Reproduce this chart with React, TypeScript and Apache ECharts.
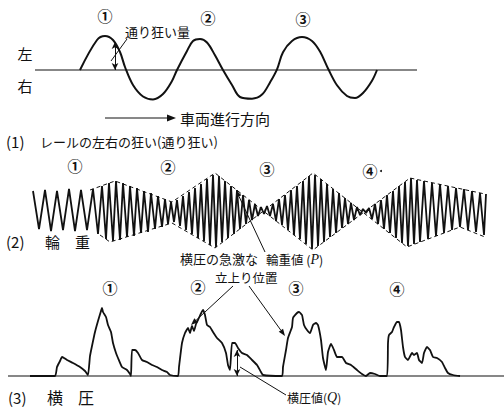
import { useEffect, useRef } from "react";
import * as echarts from "echarts";

const FONT = '"Noto Sans CJK JP", "Noto Sans", sans-serif';

// (1) rail alignment: [distance, offset]  (+ = left, − = right)
const alignmentTrace: [number, number][] = [
  [80, 0], [97, 30], [105, 34], [113, 30], [120, 18], [125, 3], [133, -15], [143, -26.5],
  [153, -29.4], [163, -24], [172, -11], [177, 0], [187, 19], [193, 29], [200, 31], [207, 27.5],
  [215, 14.7], [223, 0], [232, -15], [240, -27], [252, -28.7], [262, -24.6], [270, -12.4],
  [277, 0.7], [283, 17.8], [292, 29], [302, 33], [312, 29], [320, 18.4], [328, 1.5],
  [337, -15.3], [347, -26], [355, -28], [363, -23], [372, -10.7], [377, 0],
];
const alignmentBaseline: [number, number][] = [[35, 0], [417, 0]];
const alignmentAmount = { at: 115, value: 28 };

// (2) wheel load: turning points of the recorded oscillation [distance, load deviation]
const wheelLoadTrace: [number, number][] = [
  [33, 20], [39, -18], [45, 21], [51, -20], [57, 20], [63, -19], [69, 22], [75, -20], [81, 21], [87, -19], [93, 22], [98, -23],
  [102, 25], [106, -28], [109, 28], [113, -30], [116, 30], [120, -29], [123, 28], [127, -26], [130, 25], [134, -25],
  [137, 23], [141, -22], [144, 20], [148, -21], [151, 18], [155, -18], [158, 15], [162, -16], [165, 12], [168, -13],
  [171, 9], [174, -11], [177, 11], [180, -15],
  [183, 15], [186, -19], [189, 19], [192, -23], [195, 23], [198, -27], [201, 27], [204, -30], [207, 32], [210, -34],
  [213, 36], [216, -36], [219, 35], [222, -31], [225, 30], [228, -27], [231, 25], [234, -23], [237, 21], [240, -18],
  [243, 16], [246, -13], [249, 11], [252, -9], [255, 7], [258, -5], [261, 4], [264, -3], [267, 5],
  [270, -5], [273, 7], [276, -10], [279, 12], [282, -14], [285, 16], [288, -19], [291, 21], [294, -24], [297, 25],
  [300, -28], [303, 30], [306, -33], [309, 35], [312, -38], [315, 36], [318, -35], [321, 32], [324, -31], [327, 27],
  [330, -26], [333, 22], [336, -22], [339, 18], [342, -17], [345, 13], [348, -13], [351, 8], [354, -9], [357, 4],
  [360, -4], [363, 2], [366, -2], [369, 3],
  [372, -8], [375, 7], [378, -13], [381, 11], [384, -18], [387, 16], [390, -22], [393, 20], [396, -27], [399, 25],
  [402, -32], [405, 29], [408, -35], [411, 33], [414, -33], [417, 31], [420, -31], [424, 30], [428, -28], [432, 28],
  [436, -25], [440, 27], [444, -22], [448, 25], [452, -19], [456, 23], [460, -16], [464, 22], [468, -19], [472, 20],
  [476, -21], [480, 18], [484, -24], [486, 17],
];
// dashed envelopes joining the extreme values
const envelopeA: [number, number][] = [[90, 21], [115, 30], [172, 9], [215, 38], [313, -39], [410, 33], [485, 17]];
const envelopeB: [number, number][] = [[100, -24], [110, -31], [172, -12], [215, -37], [313, 38], [407, -36], [460, -16], [485, -26]];

// (3) lateral force: [distance, force]
const lateralForceTrace: [number, number][] = [
  [30, 0], [55, 0], [57, 9], [60, 15], [62, 19], [64, 18], [67, 16], [73, 13], [80, 9], [85, 5], [88, 1],
  [90, 20], [92, 30], [95, 44], [98, 55], [101, 65], [102, 68], [103, 64], [106, 59], [108, 51], [111, 44],
  [113, 33], [116, 23], [118, 18], [122, 9], [127, 6], [130, 2], [131, 0],
  [132, 26], [135, 26], [138, 23], [142, 16], [147, 14], [152, 11], [157, 9], [162, 6], [167, 4], [170, 1], [178, 0],
  [179, 9], [182, 33], [185, 43], [188, 48], [190, 43], [192, 50], [194, 45], [196, 52], [198, 56], [203, 66],
  [205, 61], [207, 51], [210, 49], [213, 44], [217, 38], [222, 33], [226, 23], [228, 11], [230, 6], [232, 33],
  [235, 33], [238, 28], [242, 23], [247, 21], [252, 16], [257, 11], [261, 4], [263, 1], [282, 0],
  [283, 9], [286, 26], [288, 38], [292, 49], [293, 58], [297, 63], [299, 64], [302, 61], [304, 51], [307, 46],
  [310, 43], [313, 51], [316, 53], [318, 51], [321, 36], [323, 18], [326, 6], [328, 24], [331, 32], [334, 26],
  [337, 19], [342, 19], [346, 13], [351, 11], [357, 6], [362, 2], [366, 0], [370, 3], [375, 2], [380, 0], [387, 0],
  [388, 33], [389, 41], [392, 44], [394, 49], [397, 54], [399, 54], [401, 46], [403, 29], [405, 19], [408, 16],
  [412, 23], [414, 21], [417, 23], [419, 16], [422, 13], [424, 23], [427, 29], [430, 26], [433, 19], [437, 18],
  [442, 14], [445, 8], [448, 3], [453, 1], [460, 0],
];
const lateralBaseline: [number, number][] = [[8, 0], [504, 0]];
const lateralValue = { at: 237, value: 26 };

const circled = ["①", "②", "③", "④"];

type El = Record<string, unknown>;

function text(x: number, y: number, str: string, size: number, align = "left", extra: El = {}): El {
  return {
    type: "text",
    x,
    y,
    z: 10,
    style: {
      text: str,
      fontSize: size,
      fontFamily: FONT,
      fill: "#111",
      align,
      textAlign: align,
      verticalAlign: "middle",
      textVerticalAlign: "middle",
      ...extra,
    },
  };
}

function arrow(x1: number, y1: number, x2: number, y2: number, head = 7, width = 1): El[] {
  const a = Math.atan2(y2 - y1, x2 - x1);
  const w = head * 0.38;
  const bx = x2 - head * Math.cos(a);
  const by = y2 - head * Math.sin(a);
  return [
    { type: "line", z: 10, shape: { x1, y1, x2: bx, y2: by }, style: { stroke: "#111", lineWidth: width } },
    {
      type: "polygon",
      z: 10,
      shape: {
        points: [
          [x2, y2],
          [bx + w * Math.sin(a), by - w * Math.cos(a)],
          [bx - w * Math.sin(a), by + w * Math.cos(a)],
        ],
      },
      style: { fill: "#111" },
    },
  ];
}

function leader(x1: number, y1: number, x2: number, y2: number): El {
  return { type: "line", z: 10, shape: { x1, y1, x2, y2 }, style: { stroke: "#111", lineWidth: 1 } };
}

const ink = "#111";

export default function App() {
  const ref = useRef<HTMLDivElement>(null);

  useEffect(() => {
    if (!ref.current) return;
    const chart = echarts.init(ref.current, undefined, { renderer: "svg" });

    const italic = { q: { fontStyle: "italic", fontFamily: "Liberation Serif", fontSize: 14 } };
    const numStyle = { fontWeight: "bold" };

    const graphic: El[] = [
      // panel (1)
      text(105, 15, circled[0], 15, "center", numStyle),
      text(208, 17, circled[1], 15, "center", numStyle),
      text(303, 18, circled[2], 15, "center", numStyle),
      text(125, 31, "通り狂い量", 13),
      leader(127, 39, 111, 61),
      text(25, 53, "左", 15, "center"),
      text(25, 85, "右", 15, "center"),
      ...arrow(105, 118, 176, 118, 9),
      text(180, 118, "車両進行方向", 15),
      text(6, 141, "(1)", 15),
      text(40, 141, "レールの左右の狂い(通り狂い)", 13),
      // panel (2)
      text(75, 165, circled[0], 15, "center", numStyle),
      text(168, 166, circled[1], 15, "center", numStyle),
      text(267, 168, circled[2], 15, "center", numStyle),
      text(370, 170, circled[3], 15, "center", numStyle),
      { type: "circle", z: 10, shape: { cx: 381, cy: 171, r: 1 }, style: { fill: ink } },
      text(6, 241, "(2)", 15),
      text(45, 241, "輪", 15),
      text(75, 241, "重", 15),
      text(180, 258, "横圧の急激な", 13),
      text(266, 259, "輪重値 ({q|P})", 12.5, "left", { rich: italic }),
      ...arrow(265, 252, 236, 190, 7),
      text(215, 277, "立上り位置", 12.5),
      ...arrow(233, 286, 191, 325, 7),
      ...arrow(249, 286, 285, 336, 7),
      // panel (3)
      text(110, 287, circled[0], 15, "center", numStyle),
      text(198, 286, circled[1], 15, "center", numStyle),
      text(296, 287, circled[2], 15, "center", numStyle),
      text(397, 288, circled[3], 15, "center", numStyle),
      leader(240, 367, 286, 395),
      text(287, 397, "横圧値({q|Q})", 12, "left", { rich: italic }),
      text(8, 397, "(3)", 15),
      text(47, 397, "横", 16),
      text(78, 397, "圧", 16),
    ];

    const dashed = { color: ink, width: 1, type: [4, 3] as number[] };
    const valueArrow = (at: number, value: number) => ({
      silent: true,
      symbol: ["arrow", "arrow"],
      symbolSize: [5, 7],
      lineStyle: { color: ink, width: 1, type: "solid" },
      label: { show: false },
      emphasis: { disabled: true },
      data: [[{ coord: [at, 0] }, { coord: [at, value] }]],
    });

    chart.setOption({
      animation: false,
      backgroundColor: "#fff",
      grid: [
        { left: 0, right: 0, top: 36, height: 68 },
        { left: 0, right: 0, top: 170, height: 82 },
        { left: 0, right: 0, top: 306, height: 70 },
      ],
      xAxis: [0, 1, 2].map((i) => ({ type: "value", gridIndex: i, min: 0, max: 504, show: false })),
      yAxis: [
        { type: "value", gridIndex: 0, min: -34, max: 34, show: false },
        { type: "value", gridIndex: 1, min: -41, max: 41, show: false },
        { type: "value", gridIndex: 2, min: 0, max: 70, show: false },
      ],
      series: [
        {
          type: "line", xAxisIndex: 0, yAxisIndex: 0, data: alignmentBaseline, symbol: "none",
          lineStyle: { color: ink, width: 1.2 }, silent: true, clip: false,
        },
        {
          type: "line", xAxisIndex: 0, yAxisIndex: 0, data: alignmentTrace, symbol: "none", smooth: 0.35,
          lineStyle: { color: ink, width: 2 }, silent: true, clip: false,
          markLine: valueArrow(alignmentAmount.at, alignmentAmount.value),
        },
        {
          type: "line", xAxisIndex: 1, yAxisIndex: 1, data: envelopeA, symbol: "none",
          lineStyle: dashed, silent: true, clip: false,
        },
        {
          type: "line", xAxisIndex: 1, yAxisIndex: 1, data: envelopeB, symbol: "none",
          lineStyle: dashed, silent: true, clip: false,
        },
        {
          type: "line", xAxisIndex: 1, yAxisIndex: 1, data: wheelLoadTrace, symbol: "none",
          lineStyle: { color: ink, width: 1.8 }, silent: true, clip: false,
        },
        {
          type: "line", xAxisIndex: 2, yAxisIndex: 2, data: lateralBaseline, symbol: "none",
          lineStyle: { color: ink, width: 1.2 }, silent: true, clip: false,
        },
        {
          type: "line", xAxisIndex: 2, yAxisIndex: 2, data: lateralForceTrace, symbol: "none", smooth: 0.15,
          lineStyle: { color: ink, width: 1.8 }, silent: true, clip: false,
          markLine: valueArrow(lateralValue.at, lateralValue.value),
        },
      ],
      graphic,
    });

    return () => chart.dispose();
  }, []);

  return (
    <div
      ref={ref}
      style={{ position: "fixed", left: 0, top: 0, width: 504, height: 416, background: "#fff" }}
    />
  );
}
